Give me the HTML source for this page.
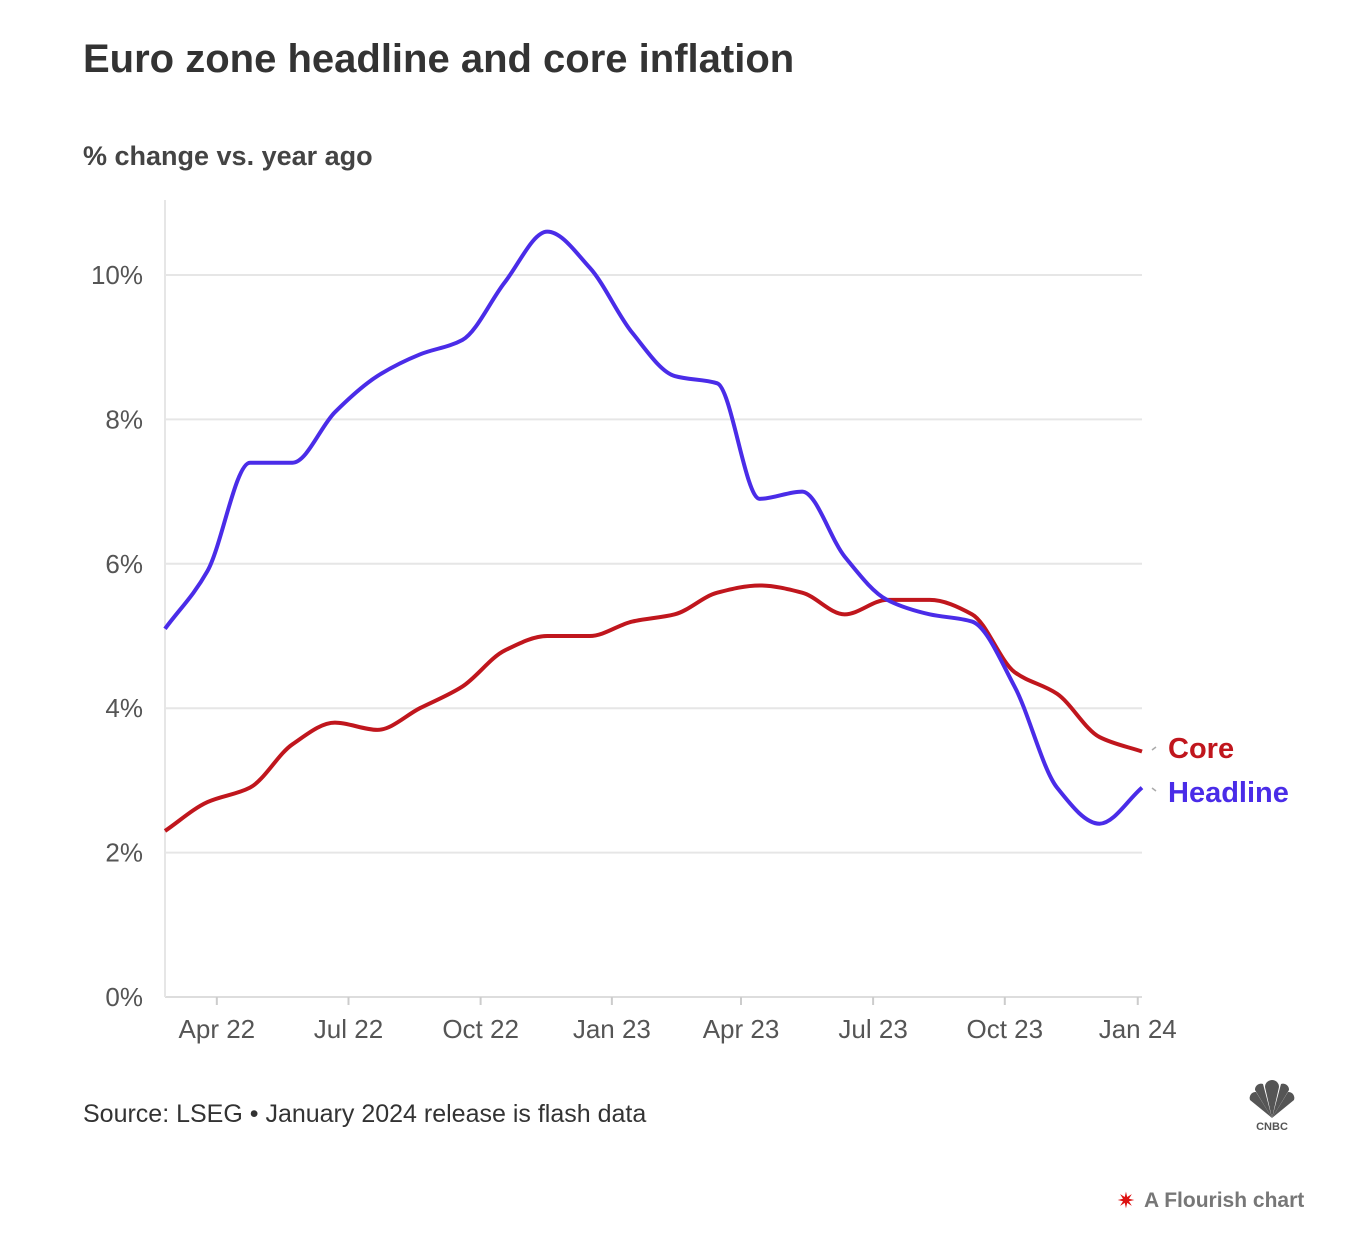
<!DOCTYPE html>
<html><head><meta charset="utf-8"><style>
body{margin:0;background:#fff;width:1352px;height:1252px;overflow:hidden;font-family:"Liberation Sans",sans-serif;}
</style></head><body>
<svg width="1352" height="1252" xmlns="http://www.w3.org/2000/svg">
<text x="83" y="72" font-size="40" font-weight="bold" fill="#333">Euro zone headline and core inflation</text>
<text x="83" y="165" font-size="27" font-weight="bold" fill="#444">% change vs. year ago</text>
<g id="grid"></g>
<g id="lines"></g>
<text x="1168" y="758" font-size="29" font-weight="bold" fill="#c0161d">Core</text>
<text x="1168" y="802" font-size="29" font-weight="bold" fill="#4a2ce8">Headline</text>
<path d="M1152 750 l4 -3 M1152 788 l4 3" stroke="#aaa" stroke-width="1.5" fill="none"/>
<text x="83" y="1122" font-size="25" fill="#333">Source: LSEG • January 2024 release is flash data</text>
<g>
<g fill="#555">
<path d="M1272 1118 L1250 1100 a6 6 0 0 1 6 -8 Z"/>
<path d="M1272 1118 L1255 1090 a6 6 0 0 1 8 -6 Z"/>
<path d="M1272 1118 L1265 1087 a6 6 0 0 1 14 0 Z"/>
<path d="M1272 1118 L1281 1084 a6 6 0 0 1 8 6 Z"/>
<path d="M1272 1118 L1288 1092 a6 6 0 0 1 6 8 Z"/>
</g>
<text x="1272" y="1130" font-size="11" font-weight="bold" fill="#555" text-anchor="middle">CNBC</text>
</g>
<text x="1144" y="1207" font-size="21" font-weight="bold" fill="#777">A Flourish chart</text>
<text x="1126" y="1208" font-size="22" fill="#d11" text-anchor="middle">✷</text>
</svg>
<script>
const headline = [5.1,5.9,7.4,7.4,8.1,8.6,8.9,9.1,9.9,10.6,10.1,9.2,8.6,8.5,6.9,7.0,6.1,5.5,5.3,5.2,4.3,2.9,2.4,2.9];
const core = [2.3,2.7,2.9,3.5,3.8,3.7,4.0,4.3,4.8,5.0,5.0,5.2,5.3,5.6,5.7,5.6,5.3,5.5,5.5,5.3,4.5,4.2,3.6,3.4];
const yTicks = [0,2,4,6,8,10];
const xTickLabels = ["Apr 22","Jul 22","Oct 22","Jan 23","Apr 23","Jul 23","Oct 23","Jan 24"];
const xTickIdx = [1.22,4.32,7.43,10.52,13.56,16.67,19.77,22.9];
const X0=165,X1=1142,Y0=997,PPU=72.2;
const n=headline.length;
const x=i=>X0+i*(X1-X0)/(n-1);
const y=v=>Y0-v*PPU;
const NS="http://www.w3.org/2000/svg";
const grid=document.getElementById('grid'), lines=document.getElementById('lines');
function mk(tag,attrs,parent){const e=document.createElementNS(NS,tag);for(const k in attrs)e.setAttribute(k,attrs[k]);parent.appendChild(e);return e;}
yTicks.forEach(v=>{
  const l=mk('line',{x1:X0,x2:X1,y1:y(v),y2:y(v),stroke:v===0?'#ddd':'#e6e6e6','stroke-width':2},grid);
  
  
  const t=mk('text',{x:143,y:y(v)+9,'font-size':26,fill:'#555','text-anchor':'end'},grid);
  t.textContent=v+'%';
  
  
});
const ax=mk('line',{x1:X0,x2:X0,y1:200,y2:Y0,stroke:'#e6e6e6','stroke-width':2},grid);


xTickLabels.forEach((lab,k)=>{
  const px=x(xTickIdx[k]);
  const tk=mk('line',{x1:px,x2:px,y1:Y0,y2:Y0+8,stroke:'#ccc','stroke-width':2},grid);
  
  
  const t=mk('text',{x:px,y:Y0+41,'font-size':26,fill:'#555','text-anchor':'middle'},grid);
  t.textContent=lab;
  
  
});
function monotone(vals){
  const pts=vals.map((v,i)=>[x(i),y(v)]);const m=pts.length;
  const d=[],s=[];
  for(let i=0;i<m-1;i++)d.push((pts[i+1][1]-pts[i][1])/(pts[i+1][0]-pts[i][0]));
  for(let i=0;i<m;i++){
    if(i===0)s.push(d[0]);else if(i===m-1)s.push(d[m-2]);
    else s.push(d[i-1]*d[i]<=0?0:2/(1/d[i-1]+1/d[i]));
  }
  let p='M'+pts[0][0]+','+pts[0][1];
  for(let i=0;i<m-1;i++){
    const h=(pts[i+1][0]-pts[i][0])/3;
    p+=' C'+(pts[i][0]+h)+','+(pts[i][1]+s[i]*h)+' '+(pts[i+1][0]-h)+','+(pts[i+1][1]-s[i+1]*h)+' '+pts[i+1][0]+','+pts[i+1][1];
  }
  return p;
}
const pc=mk('path',{d:monotone(core),fill:'none',stroke:'#c0161d','stroke-width':4,'stroke-linejoin':'round'},lines);


const ph=mk('path',{d:monotone(headline),fill:'none',stroke:'#4a2ce8','stroke-width':4,'stroke-linejoin':'round'},lines);


</script>
</body></html>
